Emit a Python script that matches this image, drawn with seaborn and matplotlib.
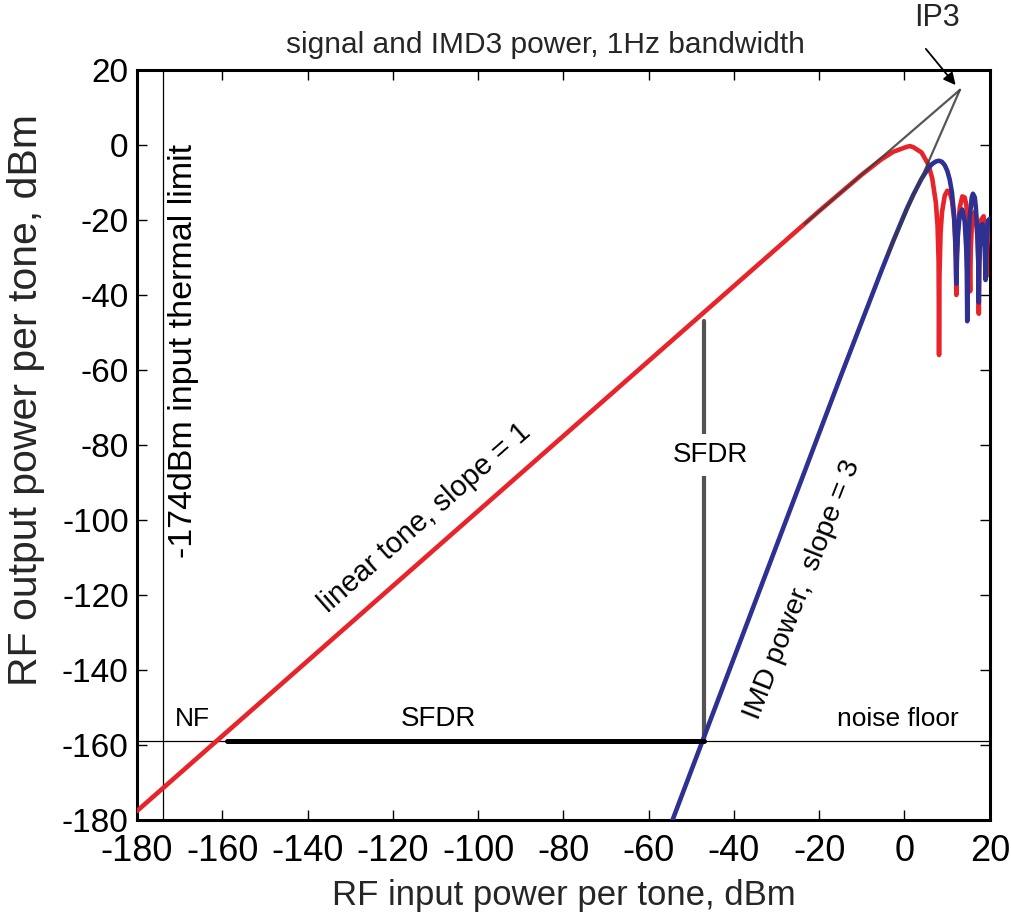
import matplotlib
matplotlib.use("Agg")
import matplotlib.pyplot as plt
import seaborn as sns
import pandas as pd
from matplotlib import font_manager as fm

# ---------------- data ----------------
red_x = [-180, -20, -10, -5.5, -2.6, 0.5, 1.3, 2.1, 4.0, 5.6, 6.5, 7.35, 7.75, 8.0, 8.1, 8.2,
         8.46, 8.8, 9.44, 10.04, 10.6, 11.13, 11.63, 11.86, 12.05, 12.16, 12.3, 12.54, 12.96,
         13.56, 14.12, 14.48, 14.82, 15.15, 15.3, 15.4, 15.54, 15.77, 16.06, 16.49, 16.76,
         17.15, 17.35, 17.43, 17.52, 17.65, 18.0, 18.56, 18.88, 19.15, 19.24, 19.35, 19.58,
         19.96, 20.0]
red_y = [-177.6, -17.6, -7.9, -3.9, -1.8, -0.5, -0.3, -0.6, -2.0, -5.2, -8.9, -15.3, -21.5, -31,
         -56, -35, -23.5, -17.9, -13.5, -12.2, -12.6, -14.8, -19.6, -24.4, -31, -40, -30, -22.7,
         -16.7, -13.7, -14.0, -15.8, -19.5, -28, -34, -39, -28, -22, -18.7, -17.8, -19, -25.5,
         -32, -45, -33, -27, -19.9, -19, -23.3, -29, -35, -28, -24.2, -21, -21]

blue_x = [-55, -30, -15, -5.5, -2.6, 0.5, 2.1, 4.0, 5.6, 6.5, 7.35, 8.1, 8.8, 9.44, 10.04, 10.6,
          11.13, 11.63, 11.86, 12.05, 12.16, 12.3, 12.54, 12.96, 13.56, 14.12, 14.48, 14.62,
          14.72, 14.85, 14.99, 15.31, 15.77, 16.06, 16.49, 16.76, 17.15, 17.32, 17.43, 17.52,
          17.65, 18.0, 18.34, 18.56, 18.78, 18.92, 19.01, 19.1, 19.29, 19.58, 19.96, 20.0]
blue_y = [-181.8, -106.8, -61.8, -33.8, -25.5, -17.1, -13.2, -9.0, -6.2, -5.05, -4.4, -4.2, -4.5,
          -5.4, -6.9, -9.2, -12.7, -18.6, -24, -30, -37, -29, -23.6, -18.5, -17.2, -20.4, -27.5,
          -34, -47, -33, -25.6, -19.2, -14.0, -13.0, -14.0, -17.0, -25, -32, -42, -32, -27.4,
          -21.3, -21.1, -22.8, -27, -31, -36, -30, -25.8, -20.2, -19.7, -19.7]

noise_floor = -159
thermal_limit = -174
ip3_x, ip3_y = 13.0, 14.7
grey1_x = [-23.4, ip3_x]
grey1_y = [-21.0, ip3_y]
grey2_x = [-4.0, ip3_x]
grey2_y = [-29.5, ip3_y]
sfdr_h_x = [-159, -47]
sfdr_h_y = [noise_floor, noise_floor]
sfdr_v_x = [-47, -47]
sfdr_v_y = [noise_floor, -47]
x_ticks = list(range(-180, 21, 20))
y_ticks = list(range(-180, 21, 20))

# ---------------- style ----------------
sns.set_style("ticks")


def pick(name, fallback="DejaVu Sans"):
    try:
        fm.findfont(fm.FontProperties(family=name), fallback_to_default=False)
        return name
    except Exception:
        return fallback


REG = pick("Liberation Sans")
NAR = pick("Liberation Sans Narrow", REG)
plt.rcParams['font.family'] = [REG, 'DejaVu Sans']

RED = "#e8232a"
BLUE = "#2e3192"

fig = plt.figure(figsize=(10.11, 9.16), dpi=100)
ax = fig.add_axes([0.1355, 0.1048, 0.8435, 0.8188])

# thin reference lines
ax.axhline(noise_floor, color="black", lw=0.9, zorder=1)
ax.axvline(thermal_limit, color="black", lw=0.9, zorder=1)

red_df = pd.DataFrame({"x": red_x, "y": red_y})
blue_df = pd.DataFrame({"x": blue_x, "y": blue_y})
sns.lineplot(data=red_df, x="x", y="y", sort=False, estimator=None, color=RED, lw=3.3, ax=ax, zorder=3)
sns.lineplot(data=blue_df, x="x", y="y", sort=False, estimator=None, color=BLUE, lw=3.3, ax=ax, zorder=4)

sns.lineplot(x=sfdr_h_x, y=sfdr_h_y, sort=False, estimator=None, color="black", lw=3.6, ax=ax, zorder=5)
sns.lineplot(x=sfdr_v_x, y=sfdr_v_y, sort=False, estimator=None, color="#55524f", lw=3.0, ax=ax, zorder=2)
sns.lineplot(x=grey1_x, y=grey1_y, sort=False, estimator=None, color="#3a3a3a", lw=1.6, alpha=0.85, ax=ax, zorder=6)
sns.lineplot(x=grey2_x, y=grey2_y, sort=False, estimator=None, color="#3a3a3a", lw=1.6, alpha=0.85, ax=ax, zorder=6)

ax.set_xlim(-180, 20)
ax.set_ylim(-180, 20)
ax.set_xticks(x_ticks)
ax.set_yticks(y_ticks)
ax.set_xticklabels([str(v) for v in x_ticks], family=NAR, fontsize=26)
ax.set_yticklabels([str(v) for v in y_ticks], family=REG, fontsize=24)
ax.tick_params(direction="in", length=7, width=1.0, top=True, right=True, colors="black")
ax.tick_params(axis="x", pad=10)
ax.tick_params(axis="y", pad=6)
for s in ax.spines.values():
    s.set_linewidth(2.2)
    s.set_color("black")

ax.set_xlabel("RF input power per tone, dBm", family=NAR, fontsize=25, labelpad=7)
ax.set_ylabel("RF output power per tone, dBm", family=REG, fontsize=29.5)
ax.yaxis.set_label_coords(-0.108, 0.56)

# annotations
tk = dict(family=REG, color="black")
ax.text(-166.9, -153, "NF", ha="center", va="center", fontsize=19, **tk)
ax.text(-109.4, -153, "SFDR", ha="center", va="center", fontsize=20, **tk)
ax.text(-1.6, -153, "noise floor", ha="center", va="center", fontsize=19, **tk)
ax.text(-45.6, -82.7, "SFDR", ha="center", va="center", zorder=7, fontsize=20,
        bbox=dict(facecolor="white", edgecolor="none", pad=6), **tk)
ax.text(-112.5, -99.5, "linear tone, slope = 1", ha="center", va="center",
        rotation=41.3, rotation_mode="anchor", fontsize=21, **tk)
ax.text(-24.0, -118.7, "IMD power,  slope = 3", ha="center", va="center",
        rotation=68.5, rotation_mode="anchor", fontsize=20.5, **tk)
ax.text(-169.2, -54.9, "-174dBm input thermal limit", ha="center", va="center",
        rotation=90, fontsize=24.5, **tk)

fig.text(545 / 1011, 1 - 45 / 916, "signal and IMD3 power, 1Hz bandwidth",
         ha="center", va="center", family=NAR, fontsize=21.5)
fig.text(937 / 1011, 1 - 18 / 916, "IP3", ha="center", va="center", family=NAR, fontsize=22)
ax.annotate("", xy=(12.4, 15.4), xytext=(4.6, 26.2), annotation_clip=False,
            arrowprops=dict(arrowstyle="-|>", color="black", lw=1.3, mutation_scale=18))

fig.savefig("out.png", dpi=100)
